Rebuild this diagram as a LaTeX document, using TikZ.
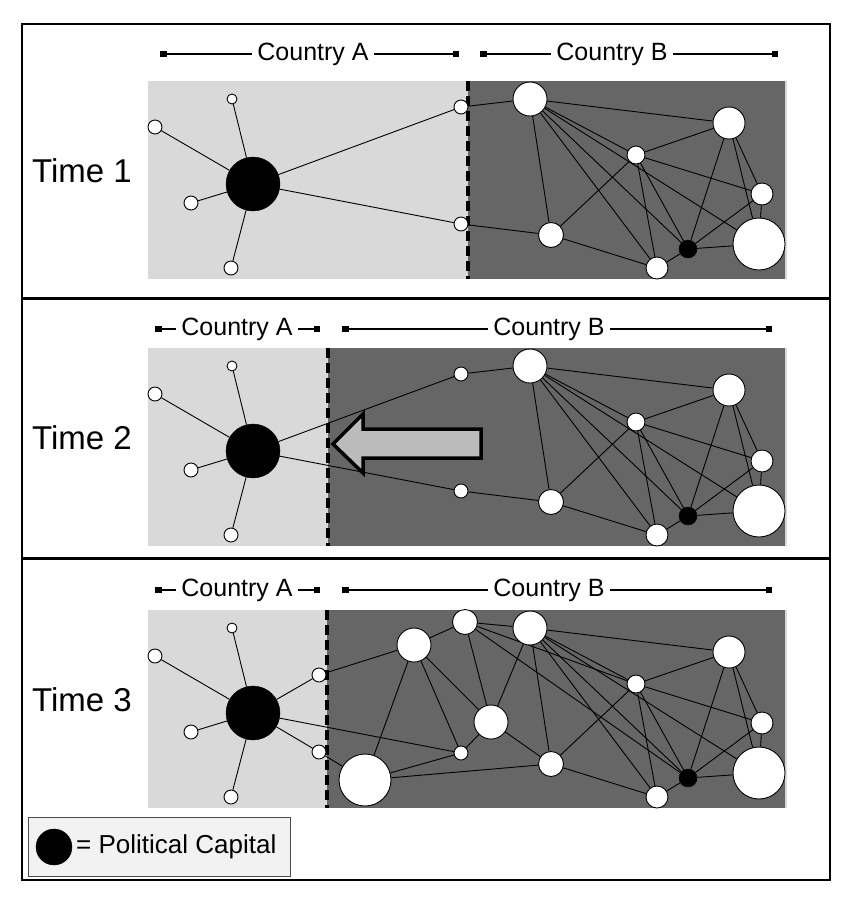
\documentclass[tikz,border=0pt]{standalone}
\usepackage{xcolor}
\usepackage{fontspec}
\setmainfont{Liberation Sans}
\usepackage{tikz}
\usetikzlibrary{positioning, arrows.meta}

\definecolor{landA}{HTML}{D9D9D9}
\definecolor{landB}{HTML}{666666}
\definecolor{arrowfill}{HTML}{BBBBBB}
\definecolor{legendfill}{HTML}{F2F2F2}

\pgfdeclarelayer{land}
\pgfdeclarelayer{wires}
\pgfsetlayers{land,wires,main}

\begin{document}
\begin{tikzpicture}[x=1pt, y=-1pt,
    town/.style={circle, draw=black, line width=0.9pt, fill=white, inner sep=0pt, minimum size=#1},
    town/.default=14pt,
    capital/.style={circle, draw=black, fill=black, inner sep=0pt, minimum size=#1},
    link/.style={line width=0.9pt, black},
    border/.style={line width=3.5pt, dash pattern=on 10pt off 5pt},
    span/.style={line width=1.2pt, {Square[length=6.5pt,width=6.5pt]}-{Square[length=6.5pt,width=6.5pt]}},
    tag/.style={font=\fontsize{25}{30}\selectfont, fill=white, inner sep=5pt},
    timelabel/.style={font=\fontsize{33}{38}\selectfont}
]
\useasboundingbox (0,0) rectangle (846,906);

% frame and dividers
\draw[line width=1.5pt] (22,24) rectangle (830,880);
\draw[line width=3pt] (22,298) -- (830,298);
\draw[line width=3pt] (22,558) -- (830,558);

% the three time slices share country A's star and country B's net
\foreach \p/\dy/\dx in {1/0/468, 2/267/328, 3/529/327} {
\begin{scope}[shift={(0,\dy)}]
  \begin{pgfonlayer}{land}
    \fill[landA] (148,81) rectangle (787,279);
    \fill[landB] (\dx,81) rectangle (785,279);
  \end{pgfonlayer}
  \draw[border] (\dx,81) -- (\dx,279);

  \node[timelabel] (time-\p) at (82,171) {Time \p};

  % country A
  \node[capital=54pt] (cap-\p) at (253,184) {};
  \node[town=10pt] (a1-\p) at (232,99) {};
  \node[town] (a2-\p) at (155,127) {};
  \node[town] (a3-\p) at (191,203) {};
  \node[town] (a4-\p) at (231,268) {};

  % country B
  \node[town=34pt] (b1-\p) at (530,99) {};
  \node[town=32pt] (b2-\p) at (729,123) {};
  \node[town=18pt] (b3-\p) at (636,155) {};
  \node[town=22pt] (b4-\p) at (762,194) {};
  \node[town=25pt] (b5-\p) at (551,235) {};
  \node[town=22pt] (b6-\p) at (657,268) {};
  \node[capital=18pt] (bk-\p) at (688,249) {};
  \node[town=52pt] (b7-\p) at (759,244) {};

  \begin{pgfonlayer}{wires}
    \foreach \t in {a1,a2,a3,a4}
      \draw[link] (cap-\p) -- (\t-\p);
    \foreach \u/\v in {b1/b2, b1/b3, b1/b5, b1/b6, b1/bk, b1/b7,
                       b3/b2, b3/b5, b3/b6, b3/bk, b3/b4,
                       b2/bk, b2/b7, b2/b4, b4/bk, b4/b7,
                       bk/b7, bk/b6, b5/b6}
      \draw[link] (\u-\p) -- (\v-\p);
  \end{pgfonlayer}
\end{scope}
}

% border towns, time 1 and 2
\foreach \p/\dy in {1/0, 2/267} {
\begin{scope}[shift={(0,\dy)}]
  \node[town] (e1-\p) at (461,107) {};
  \node[town] (e2-\p) at (461,224) {};
  \begin{pgfonlayer}{wires}
    \draw[link] (cap-\p) -- (e1-\p);
    \draw[link] (cap-\p) -- (e2-\p);
    \draw[link] (e1-\p) -- (b1-\p);
    \draw[link] (e2-\p) -- (b5-\p);
  \end{pgfonlayer}
\end{scope}
}

% time 3: country B has grown over the old border
\begin{scope}[shift={(0,529)}]
  \node[town] (e1-3) at (319,146) {};
  \node[town] (e2-3) at (319,223) {};
  \node[town=34pt] (c1) at (414,116) {};
  \node[town=52pt] (c2) at (365,251) {};
  \node[town=14pt] (c3) at (461,224) {};
  \node[town=34pt] (c4) at (491,193) {};
  \node[town=25pt] (c5) at (465,93) {};
  \begin{pgfonlayer}{wires}
    \draw[link] (cap-3) -- (e1-3);
    \draw[link] (cap-3) -- (e2-3);
    \draw[link] (cap-3) -- (c3);
    \draw[link] (e1-3) -- (c1);
    \draw[link] (e2-3) -- (c2);
    \foreach \u/\v in {c1/c2, c1/c5, c1/c3, c1/c4, c5/c4, c2/c3, c3/c4}
      \draw[link] (\u) -- (\v);
    \foreach \u/\v in {c5/b1, c5/b3, c5/bk, c2/b5, c4/b1, c4/b5}
      \draw[link] (\u) -- (\v-3);
  \end{pgfonlayer}
\end{scope}

% push arrow, time 2
\draw[line width=3.5pt, fill=arrowfill, line join=miter]
  (333,444) -- (363,414) -- (363,429) -- (481,429) -- (481,458)
  -- (363,458) -- (363,473) -- cycle;

% country spans
\coordinate (sa1L) at (160,54);  \coordinate (sa1R) at (459,54);
\coordinate (sb1L) at (480,54);  \coordinate (sb1R) at (778,54);
\draw[span] (sa1L) -- (sa1R);
\draw[span] (sb1L) -- (sb1R);
\node[tag] (ca1) at (313,54) {Country A};
\node[tag] (cb1) at (612,54) {Country B};

\foreach \p/\y in {2/329, 3/590} {
  \coordinate (sa\p L) at (155,\y);  \coordinate (sa\p R) at (320,\y);
  \coordinate (sb\p L) at (342,\y);  \coordinate (sb\p R) at (772,\y);
  \draw[span] (sa\p L) -- (sa\p R);
  \draw[span] (sb\p L) -- (sb\p R);
  \node[tag] (ca\p) at (237,\y) {Country A};
  \node[tag] (cb\p) at (549,\y) {Country B};
}

% legend
\node[draw=black!70, line width=1pt, fill=legendfill, anchor=north west,
      minimum width=262pt, minimum height=59pt] (legend) at (28,817) {};
\node[capital=36pt] (legcap) at (54,847) {};
\node[anchor=west, inner sep=2pt, font=\fontsize{26}{30}\selectfont] (legtext) at (74,847) {= Political Capital};
\end{tikzpicture}
\end{document}
